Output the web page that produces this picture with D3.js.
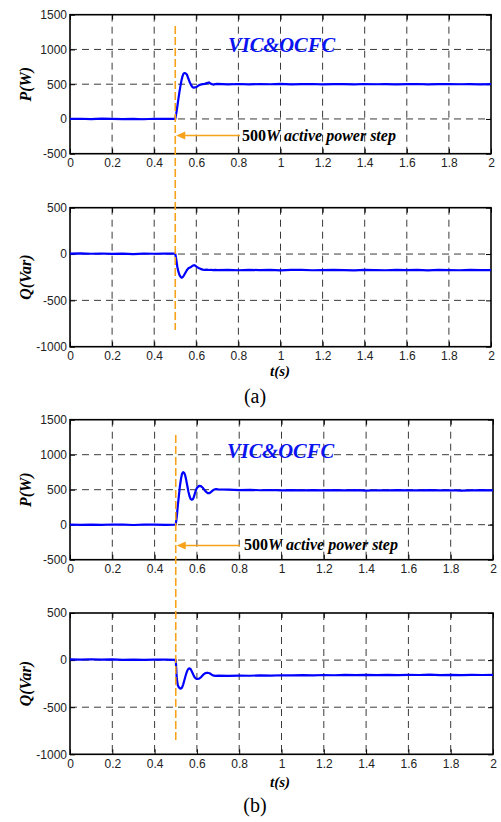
<!DOCTYPE html>
<html>
<head>
<meta charset="utf-8">
<script src="https://cdn.jsdelivr.net/npm/d3@7"></script>
<style>
  html, body { margin: 0; padding: 0; background: #fff; }
  svg { display: block; }
</style>
</head>
<body>
<svg id="chart" width="501" height="822"></svg>
<script>
// ---------------- DATA ----------------
const time = [0,0.05,0.1,0.15,0.2,0.25,0.3,0.35,0.4,0.45,0.5,
  0.505,0.51,0.515,0.52,0.525,0.53,0.535,0.54,0.545,0.55,0.555,0.56,0.565,0.57,0.575,0.58,0.585,0.59,0.595,0.6,
  0.61,0.62,0.63,0.64,0.65,0.66,0.67,0.68,0.69,0.7,
  0.75,0.8,0.85,0.9,0.95,1.0,1.05,1.1,1.15,1.2,1.25,1.3,1.35,1.4,1.45,1.5,1.55,1.6,1.65,1.7,1.75,1.8,1.85,1.9,1.95,2.0];

const pA = [0,3,-2,4,0,-3,2,-4,3,0,0,
  80,180,290,390,480,560,620,655,660,655,640,600,560,520,490,465,452,450,455,460,
  480,495,500,505,515,525,505,495,500,505,
  498,503,497,502,499,504,498,501,503,497,502,500,498,503,499,502,497,501,503,498,500,502,499,501,498,500];

const qA = [5,8,3,6,2,4,0,5,3,6,5,
  -60,-140,-190,-225,-245,-255,-250,-235,-215,-195,-175,-160,-150,-145,-140,-130,-125,-120,-125,-135,
  -150,-160,-168,-170,-168,-172,-170,-174,-171,-173,
  -172,-175,-170,-174,-171,-176,-172,-170,-175,-173,-171,-174,-176,-170,-173,-175,-171,-174,-172,-176,-170,-173,-175,-172,-174,-173];

const pB = [0,-3,2,-2,3,0,-4,2,0,-2,0,
  120,280,420,560,660,730,750,740,700,630,550,470,410,370,358,362,390,440,490,525,
  555,550,520,480,452,450,475,500,510,505,
  500,495,498,492,496,490,494,491,495,489,493,490,494,488,492,490,493,489,491,494,490,492,488,491,493,490];

const qB = [8,5,9,4,7,3,6,2,5,4,3,
  -200,-270,-290,-300,-302,-290,-260,-220,-180,-140,-110,-92,-88,-95,-115,-140,-165,-185,-195,-200,
  -198,-180,-155,-138,-134,-140,-155,-165,-168,-165,
  -168,-164,-166,-162,-165,-161,-163,-159,-162,-158,-161,-157,-160,-156,-159,-157,-160,-156,-158,-155,-159,-157,-160,-156,-158,-157];

const xTicks = [0,0.2,0.4,0.6,0.8,1,1.2,1.4,1.6,1.8,2];
const pTicks = [-500,0,500,1000,1500];
const qTicks = [-1000,-500,0,500];
const stepTime = 0.5;
const titleText = "VIC&OCFC";
const annotText = "active power step";
const annotValue = "500";

// ---------------- DRAW ----------------
const svg = d3.select("#chart");
const tickFont = "'Liberation Sans', Arial, Helvetica, sans-serif";
const serif = "'Liberation Serif', 'Times New Roman', Times, serif";

function fmt(d) { return String(d); }

function drawPanel(cfg) {
  const x = d3.scaleLinear().domain([0, 2]).range([cfg.x0, cfg.x1]);
  const y = d3.scaleLinear().domain(cfg.domain).range([cfg.yb, cfg.yt]);
  const g = svg.append("g");

  // grid
  const grid = g.append("g").attr("stroke", "#3a3a3a").attr("stroke-width", 1)
    .attr("stroke-dasharray", "7,5");
  xTicks.slice(1, -1).forEach(t => {
    grid.append("line").attr("x1", x(t)).attr("x2", x(t)).attr("y1", cfg.yt).attr("y2", cfg.yb);
  });
  cfg.ticks.slice(1, -1).forEach(v => {
    grid.append("line").attr("x1", cfg.x0).attr("x2", cfg.x1).attr("y1", y(v)).attr("y2", y(v));
  });

  // axes
  const ax = (sel) => {
    sel.selectAll("text").attr("font-family", tickFont).attr("font-size", 12).attr("fill", "#222");
    sel.selectAll("line").attr("stroke", "#000");
    sel.select(".domain").remove();
  };
  g.append("g").attr("transform", `translate(0,${cfg.yb})`)
    .call(d3.axisBottom(x).tickValues(xTicks).tickFormat(fmt).tickSizeInner(-5).tickSizeOuter(0).tickPadding(5))
    .call(ax);
  g.append("g").attr("transform", `translate(0,${cfg.yt})`)
    .call(d3.axisTop(x).tickValues(xTicks).tickFormat("").tickSizeInner(-5).tickSizeOuter(0))
    .call(ax);
  g.append("g").attr("transform", `translate(${cfg.x0},0)`)
    .call(d3.axisLeft(y).tickValues(cfg.ticks).tickFormat(fmt).tickSizeInner(-5).tickSizeOuter(0).tickPadding(3))
    .call(ax);
  g.append("g").attr("transform", `translate(${cfg.x1},0)`)
    .call(d3.axisRight(y).tickValues(cfg.ticks).tickFormat("").tickSizeInner(-5).tickSizeOuter(0))
    .call(ax);

  // frame
  g.append("rect").attr("x", cfg.x0).attr("y", cfg.yt)
    .attr("width", cfg.x1 - cfg.x0).attr("height", cfg.yb - cfg.yt)
    .attr("fill", "none").attr("stroke", "#000").attr("stroke-width", 1.6);

  // data line
  const line = d3.line().x((d, i) => x(time[i])).y(d => y(d));
  g.append("path").datum(cfg.values).attr("d", line)
    .attr("fill", "none").attr("stroke", "#0000ff").attr("stroke-width", 2.2)
    .attr("stroke-linejoin", "round");

  // y label
  g.append("text")
    .attr("transform", `translate(${cfg.labelX},${(cfg.yt + cfg.yb) / 2}) rotate(-90)`)
    .attr("text-anchor", "middle")
    .attr("font-family", serif).attr("font-size", 16).attr("font-weight", "bold").attr("font-style", "italic")
    .attr("fill", "#000")
    .text(cfg.label);

  return x;
}

function drawFigure(o) {
  const xP = drawPanel({ x0: 70, x1: o.x1, yt: o.pTop, yb: o.pBot, domain: [-500, 1500], ticks: pTicks, values: o.p, label: "P(W)", labelX: 31 });
  drawPanel({ x0: 70, x1: o.x1, yt: o.qTop, yb: o.qBot, domain: [-1000, 500], ticks: qTicks, values: o.q, label: "Q(Var)", labelX: 31 });

  // orange dashed step marker
  svg.append("line")
    .attr("x1", xP(stepTime)).attr("x2", xP(stepTime))
    .attr("y1", o.orTop).attr("y2", o.orBot)
    .attr("stroke", "#f7a21b").attr("stroke-width", 1.6).attr("stroke-dasharray", "8,3");

  // arrow
  const ay = o.arrowY;
  const tipX = xP(stepTime) + 1;
  svg.append("line").attr("x1", tipX + 6).attr("x2", 240).attr("y1", ay).attr("y2", ay)
    .attr("stroke", "#f7a21b").attr("stroke-width", 1.4);
  svg.append("path")
    .attr("d", `M${tipX},${ay} L${tipX + 9},${ay - 4} L${tipX + 9},${ay + 4} Z`)
    .attr("fill", "#f7a21b");

  // annotation text
  const ann = svg.append("text").attr("x", o.annX).attr("y", o.annY)
    .attr("font-family", serif).attr("font-size", 16).attr("font-weight", "bold").attr("fill", "#000");
  ann.append("tspan").text(annotValue);
  ann.append("tspan").attr("font-style", "italic").text("W " + annotText);

  // title
  svg.append("text").attr("x", o.titleX).attr("y", o.titleY)
    .attr("font-family", serif).attr("font-size", 20.5).attr("font-weight", "bold").attr("font-style", "italic")
    .attr("fill", "#0a14f0")
    .text(titleText);

  // t(s)
  const tl = svg.append("text").attr("x", 280).attr("y", o.tY).attr("text-anchor", "middle")
    .attr("font-family", serif).attr("font-size", 15).attr("font-weight", "bold").attr("font-style", "italic")
    .attr("fill", "#000");
  tl.text("t(s)");

  // caption
  svg.append("text").attr("x", 255).attr("y", o.capY).attr("text-anchor", "middle")
    .attr("font-family", serif).attr("font-size", 20).attr("fill", "#000")
    .text(o.cap);
}

drawFigure({ x1: 491, pTop: 14.7, pBot: 153.7, qTop: 207.7, qBot: 346.7, p: pA, q: qA,
  orTop: 26, orBot: 330, arrowY: 135.5, annX: 242, annY: 140.5, titleX: 228, titleY: 52,
  tY: 376, capY: 403, cap: "(a)" });
drawFigure({ x1: 493, pTop: 419.7, pBot: 559.7, qTop: 613, qBot: 754.3, p: pB, q: qB,
  orTop: 435, orBot: 742, arrowY: 545.5, annX: 244, annY: 550, titleX: 227, titleY: 458,
  tY: 787, capY: 812, cap: "(b)" });
</script>
</body>
</html>
